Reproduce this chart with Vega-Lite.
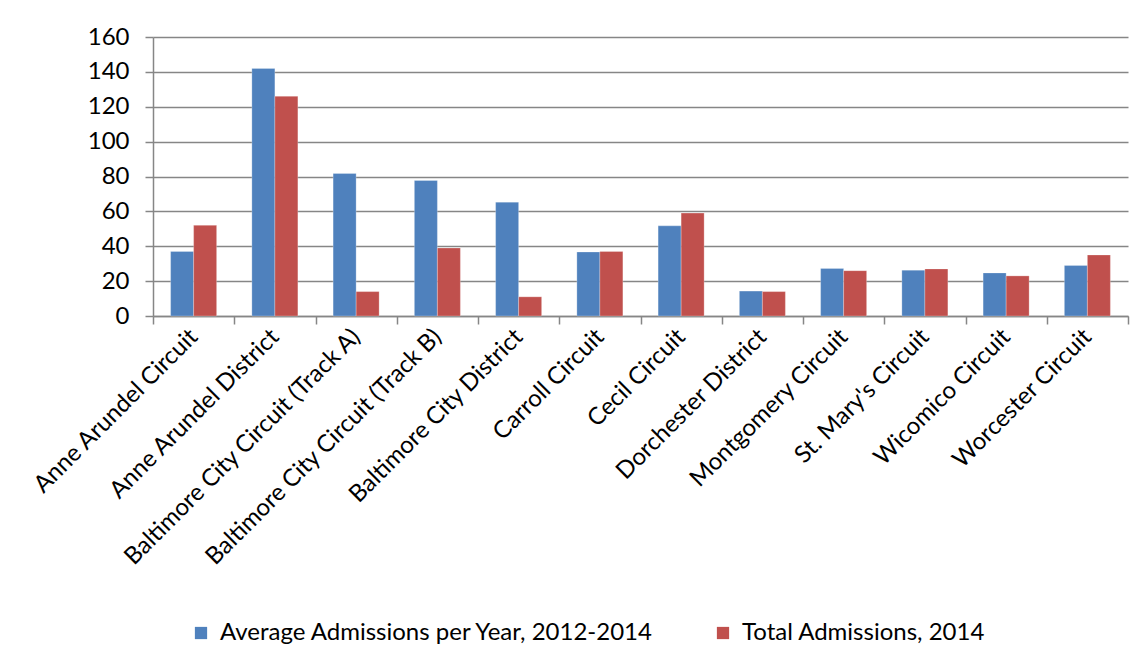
{
  "$schema": "https://vega.github.io/schema/vega-lite/v6.json",
  "autosize": "none",
  "width": 975,
  "height": 279,
  "padding": {"left": 153, "top": 37, "right": 16, "bottom": 352},
  "background": "white",
  "config": {
    "view": {"stroke": null},
    "font": "Lato",
    "axis": {"labelFont": "Lato", "labelColor": "#000000", "domainColor": "#868686", "tickColor": "#868686", "gridColor": "#868686"}
  },
  "data": {
    "values": [
      {"court": "Anne Arundel Circuit", "series": "Average Admissions per Year, 2012-2014", "value": 37},
      {"court": "Anne Arundel Circuit", "series": "Total Admissions, 2014", "value": 52},
      {"court": "Anne Arundel District", "series": "Average Admissions per Year, 2012-2014", "value": 142},
      {"court": "Anne Arundel District", "series": "Total Admissions, 2014", "value": 126},
      {"court": "Baltimore City Circuit (Track A)", "series": "Average Admissions per Year, 2012-2014", "value": 81.7},
      {"court": "Baltimore City Circuit (Track A)", "series": "Total Admissions, 2014", "value": 14},
      {"court": "Baltimore City Circuit (Track B)", "series": "Average Admissions per Year, 2012-2014", "value": 77.7},
      {"court": "Baltimore City Circuit (Track B)", "series": "Total Admissions, 2014", "value": 39},
      {"court": "Baltimore City District", "series": "Average Admissions per Year, 2012-2014", "value": 65.3},
      {"court": "Baltimore City District", "series": "Total Admissions, 2014", "value": 11},
      {"court": "Carroll Circuit", "series": "Average Admissions per Year, 2012-2014", "value": 36.7},
      {"court": "Carroll Circuit", "series": "Total Admissions, 2014", "value": 37},
      {"court": "Cecil Circuit", "series": "Average Admissions per Year, 2012-2014", "value": 51.7},
      {"court": "Cecil Circuit", "series": "Total Admissions, 2014", "value": 59},
      {"court": "Dorchester District", "series": "Average Admissions per Year, 2012-2014", "value": 14.3},
      {"court": "Dorchester District", "series": "Total Admissions, 2014", "value": 14},
      {"court": "Montgomery Circuit", "series": "Average Admissions per Year, 2012-2014", "value": 27.3},
      {"court": "Montgomery Circuit", "series": "Total Admissions, 2014", "value": 26},
      {"court": "St. Mary's Circuit", "series": "Average Admissions per Year, 2012-2014", "value": 26.3},
      {"court": "St. Mary's Circuit", "series": "Total Admissions, 2014", "value": 27},
      {"court": "Wicomico Circuit", "series": "Average Admissions per Year, 2012-2014", "value": 24.7},
      {"court": "Wicomico Circuit", "series": "Total Admissions, 2014", "value": 23},
      {"court": "Worcester Circuit", "series": "Average Admissions per Year, 2012-2014", "value": 29},
      {"court": "Worcester Circuit", "series": "Total Admissions, 2014", "value": 35}
    ]
  },
  "mark": {"type": "bar", "stroke": "#ffffff", "strokeOpacity": 0.5, "strokeWidth": 0.5},
  "encoding": {
    "x": {
      "field": "court", "type": "nominal", "sort": null, "title": null,
      "scale": {"paddingInner": 0, "paddingOuter": 0},
      "axis": {
        "labelAngle": -45, "labelAlign": "right", "labelBaseline": "middle",
        "labelFontSize": 24, "labelPadding": 9, "labelLimit": 400,
        "tickBand": "extent", "tickSize": 8, "tickWidth": 1.5, "domainWidth": 1.5,
        "grid": false
      }
    },
    "xOffset": {"field": "series", "type": "nominal", "sort": null,
      "scale": {"paddingInner": 0, "paddingOuter": 0.766}},
    "y": {
      "field": "value", "type": "quantitative", "title": null,
      "scale": {"domain": [0, 160], "nice": false},
      "axis": {
        "values": [0, 20, 40, 60, 80, 100, 120, 140, 160],
        "labelFontSize": 24, "labelPadding": 16, "tickSize": 8, "tickWidth": 1.5,
        "domainWidth": 1.5, "gridWidth": 1.5
      }
    },
    "color": {
      "field": "series", "type": "nominal", "sort": null,
      "scale": {"range": ["#4F81BD", "#C0504D"]},
      "legend": {
        "title": null, "orient": "none", "direction": "horizontal",
        "legendX": 36, "legendY": 584,
        "symbolType": "square", "symbolSize": 150, "symbolStrokeWidth": 0,
        "labelFontSize": 24, "labelFont": "Lato", "labelColor": "#000000",
        "labelOffset": 7, "columnPadding": 56, "labelLimit": 600
      }
    }
  }
}
